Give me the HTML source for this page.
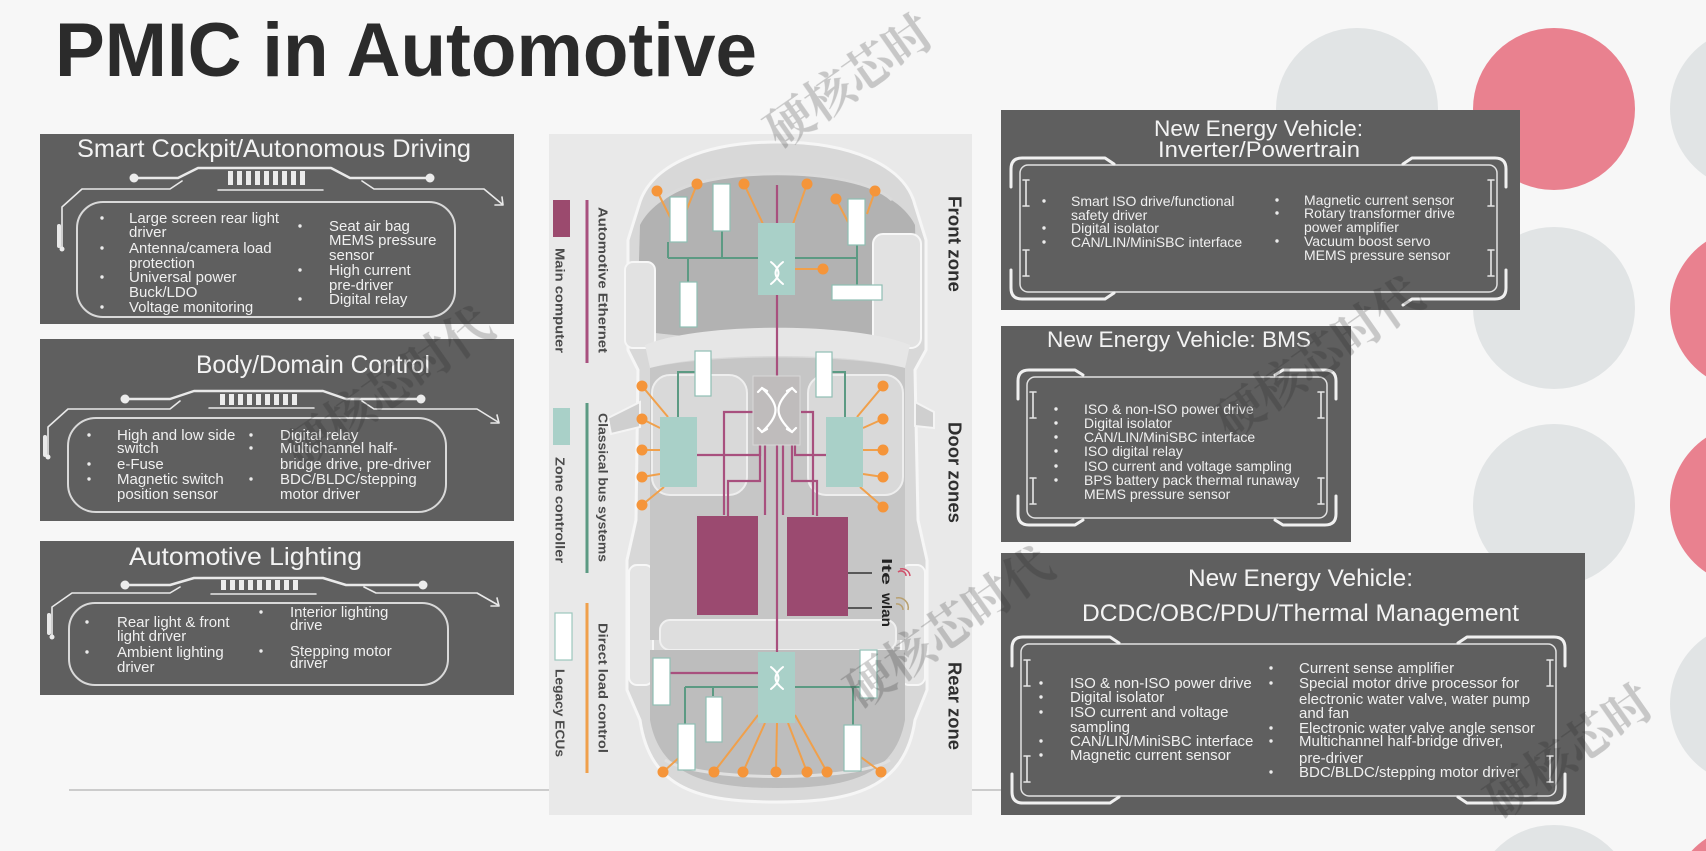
<!DOCTYPE html>
<html><head><meta charset="utf-8"><style>
html,body{margin:0;padding:0;background:#f7f7f7;width:1706px;height:851px;overflow:hidden;}
svg{display:block;overflow:hidden;}
</style></head><body>
<svg xmlns="http://www.w3.org/2000/svg" width="1706" height="851" viewBox="0 0 1706 851">
<rect width="1706" height="851" fill="#f7f7f7"/>

<!-- background circles (clipped to frame) -->
<g>
<circle cx="1357" cy="109" r="81" fill="#e1e4e5"/>
<circle cx="1554" cy="109" r="81" fill="#e9818f"/>
<path d="M1706,41.65 A81,81 0 0 0 1706,176.35 Z" fill="#e1e4e5"/>
<circle cx="1554" cy="308" r="81" fill="#e1e4e5"/>
<path d="M1706,241.65 A81,81 0 0 0 1706,376.35 Z" fill="#e9818f"/>
<circle cx="1554" cy="505" r="81" fill="#e1e4e5"/>
<path d="M1706,437.65 A81,81 0 0 0 1706,572.35 Z" fill="#e9818f"/>
<path d="M1706,636.65 A81,81 0 0 0 1706,771.35 Z" fill="#e1e4e5"/>
<path d="M1494.5,851 A81,81 0 0 1 1613.5,851 Z" fill="#e1e4e5"/>
<path d="M1691.5,851 A81,81 0 0 1 1706,838.65 L1706,851 Z" fill="#e9818f"/>
</g>

<!-- title -->
<text x="55" y="76" font-family="Liberation Sans, Arial, sans-serif" font-weight="bold" font-size="76" fill="#2b2b2b" textLength="702" lengthAdjust="spacingAndGlyphs">PMIC in Automotive</text>

<!-- divider lines -->
<line x1="69" y1="790" x2="549" y2="790" stroke="#bdbdbd" stroke-width="1.5"/>
<line x1="972" y1="790" x2="1002" y2="790" stroke="#bdbdbd" stroke-width="1.5"/>

<!-- ============ LEFT BOXES ============ -->
<g font-family="Liberation Sans, Arial, sans-serif">
<!-- L1 -->
<rect x="40" y="134" width="474" height="190" fill="#5f5f5f"/>
<text x="77" y="157" font-size="25" fill="#f3f3f3" textLength="394" lengthAdjust="spacingAndGlyphs">Smart Cockpit/Autonomous Driving</text>
<g stroke="#e9e9e9" fill="none" stroke-linecap="round" stroke-linejoin="round">
  <polyline points="134,178 178,178 198,168 331,168 350,178 430,178" stroke-width="2.5"/>
  <polyline points="62,248 62,207 82,189 170,189 182,181" stroke-width="1.6"/>
  <polyline points="362,181 374,189 484,189 502,204" stroke-width="1.6"/>
  <polyline points="495,205 503,205 502,197" stroke-width="1.6"/>
  <line x1="218" y1="190" x2="323" y2="190" stroke-width="1.5"/>
  <line x1="59" y1="226" x2="59" y2="246" stroke-width="4"/>
  <rect x="77" y="202" width="378" height="115" rx="26" stroke="#d9d9d9" stroke-width="2"/>
</g>
<g fill="#ececec">
  <circle cx="134" cy="178" r="4.5"/><circle cx="430" cy="178" r="4.5"/><circle cx="62" cy="249" r="2.5"/>
  <rect x="228" y="171" width="5" height="14"/><rect x="237" y="171" width="5" height="14"/><rect x="246" y="171" width="5" height="14"/><rect x="255" y="171" width="5" height="14"/><rect x="264" y="171" width="5" height="14"/><rect x="273" y="171" width="5" height="14"/><rect x="282" y="171" width="5" height="14"/><rect x="291" y="171" width="5" height="14"/><rect x="300" y="171" width="5" height="14"/>
</g>
<g font-size="15" fill="#f0f0f0">
  <text x="129" y="223">Large screen rear light</text>
  <text x="129" y="237">driver</text>
  <text x="129" y="253">Antenna/camera load</text>
  <text x="129" y="268">protection</text>
  <text x="129" y="282">Universal power</text>
  <text x="129" y="297">Buck/LDO</text>
  <text x="129" y="312">Voltage monitoring</text>
  <text x="329" y="231">Seat air bag</text>
  <text x="329" y="245">MEMS pressure</text>
  <text x="329" y="260">sensor</text>
  <text x="329" y="275">High current</text>
  <text x="329" y="290">pre-driver</text>
  <text x="329" y="304">Digital relay</text>
</g>
<g fill="#ececec">
  <circle cx="102" cy="218" r="1.7"/><circle cx="102" cy="248" r="1.7"/><circle cx="102" cy="277" r="1.7"/><circle cx="102" cy="307" r="1.7"/>
  <circle cx="300" cy="226" r="1.7"/><circle cx="300" cy="270" r="1.7"/><circle cx="300" cy="299" r="1.7"/>
</g>

<!-- L2 -->
<rect x="40" y="339" width="474" height="182" fill="#5f5f5f"/>
<text x="196" y="373" font-size="25" fill="#f3f3f3" textLength="234" lengthAdjust="spacingAndGlyphs">Body/Domain Control</text>
<g stroke="#e9e9e9" fill="none" stroke-linecap="round" stroke-linejoin="round">
  <polyline points="125,399 170,399 194,391 323,391 346,399 421,399" stroke-width="2.5"/>
  <polyline points="48,457 48,427 68,409 170,409 180,401" stroke-width="1.6"/>
  <polyline points="362,401 374,409 477,409 498,422" stroke-width="1.6"/>
  <polyline points="491,423 499,423 497,415" stroke-width="1.6"/>
  <line x1="209" y1="408" x2="314" y2="408" stroke-width="1.5"/>
  <line x1="45" y1="437" x2="45" y2="455" stroke-width="4"/>
  <rect x="68" y="418" width="378" height="94" rx="28" stroke="#d9d9d9" stroke-width="2"/>
</g>
<g fill="#ececec">
  <circle cx="125" cy="399" r="4.5"/><circle cx="421" cy="399" r="4.5"/><circle cx="48" cy="457" r="2.5"/>
  <rect x="220" y="394" width="5" height="11"/><rect x="229" y="394" width="5" height="11"/><rect x="238" y="394" width="5" height="11"/><rect x="247" y="394" width="5" height="11"/><rect x="256" y="394" width="5" height="11"/><rect x="265" y="394" width="5" height="11"/><rect x="274" y="394" width="5" height="11"/><rect x="283" y="394" width="5" height="11"/><rect x="292" y="394" width="5" height="11"/>
</g>
<g font-size="15" fill="#f0f0f0">
  <text x="117" y="440">High and low side</text>
  <text x="117" y="453">switch</text>
  <text x="117" y="469">e-Fuse</text>
  <text x="117" y="484">Magnetic switch</text>
  <text x="117" y="499">position sensor</text>
  <text x="280" y="440">Digital relay</text>
  <text x="280" y="453">Multichannel half-</text>
  <text x="280" y="469">bridge drive, pre-driver</text>
  <text x="280" y="484">BDC/BLDC/stepping</text>
  <text x="280" y="499">motor driver</text>
</g>
<g fill="#ececec">
  <circle cx="89" cy="435" r="1.7"/><circle cx="89" cy="464" r="1.7"/><circle cx="89" cy="479" r="1.7"/>
  <circle cx="251" cy="435" r="1.7"/><circle cx="251" cy="448" r="1.7"/><circle cx="251" cy="479" r="1.7"/>
</g>

<!-- L3 -->
<rect x="40" y="541" width="474" height="154" fill="#5f5f5f"/>
<text x="129" y="565" font-size="25" fill="#f3f3f3" textLength="233" lengthAdjust="spacingAndGlyphs">Automotive Lighting</text>
<g stroke="#e9e9e9" fill="none" stroke-linecap="round" stroke-linejoin="round">
  <polyline points="125,585 170,585 194,578 323,578 346,585 423,585" stroke-width="2.5"/>
  <polyline points="52,637 52,607 72,593 170,593 180,587" stroke-width="1.6"/>
  <polyline points="364,587 376,593 477,593 498,605" stroke-width="1.6"/>
  <polyline points="491,606 499,606 497,598" stroke-width="1.6"/>
  <line x1="211" y1="594" x2="316" y2="594" stroke-width="1.5"/>
  <line x1="49" y1="615" x2="49" y2="633" stroke-width="4"/>
  <rect x="69" y="603" width="379" height="82" rx="26" stroke="#d9d9d9" stroke-width="2"/>
</g>
<g fill="#ececec">
  <circle cx="125" cy="585" r="4.5"/><circle cx="423" cy="585" r="4.5"/><circle cx="52" cy="637" r="2.5"/>
  <rect x="221" y="580" width="5" height="10"/><rect x="230" y="580" width="5" height="10"/><rect x="239" y="580" width="5" height="10"/><rect x="248" y="580" width="5" height="10"/><rect x="257" y="580" width="5" height="10"/><rect x="266" y="580" width="5" height="10"/><rect x="275" y="580" width="5" height="10"/><rect x="284" y="580" width="5" height="10"/><rect x="293" y="580" width="5" height="10"/>
</g>
<g font-size="15" fill="#f0f0f0">
  <text x="117" y="627">Rear light &amp; front</text>
  <text x="117" y="641">light driver</text>
  <text x="117" y="657">Ambient lighting</text>
  <text x="117" y="672">driver</text>
  <text x="290" y="617">Interior lighting</text>
  <text x="290" y="630">drive</text>
  <text x="290" y="656">Stepping motor</text>
  <text x="290" y="668">driver</text>
</g>
<g fill="#ececec">
  <circle cx="87" cy="622" r="1.7"/><circle cx="87" cy="652" r="1.7"/>
  <circle cx="261" cy="612" r="1.7"/><circle cx="261" cy="651" r="1.7"/>
</g>
</g>

<!-- ============ RIGHT BOXES ============ -->
<g font-family="Liberation Sans, Arial, sans-serif">
<!-- R1 -->
<rect x="1001" y="110" width="519" height="200" fill="#5f5f5f"/>
<text x="1154" y="136" font-size="22.5" fill="#f3f3f3" textLength="209" lengthAdjust="spacingAndGlyphs">New Energy Vehicle:</text>
<text x="1158" y="157" font-size="22.5" fill="#f3f3f3" textLength="202" lengthAdjust="spacingAndGlyphs">Inverter/Powertrain</text>
<g fill="none" stroke-linecap="round" stroke-linejoin="round">
  <rect x="1020" y="165" width="477" height="127" rx="8" stroke="#e2e2e2" stroke-width="1.5"/>
  <g stroke="#f0f0f0" stroke-width="3">
    <path d="M1011,187 V169 Q1011,158 1022,158 H1105 l9,6"/>
    <path d="M1506,187 V169 Q1506,158 1495,158 H1412 l-9,6"/>
    <path d="M1011,270 V288 Q1011,299 1022,299 H1105 l9,-6"/>
    <path d="M1506,270 V288 Q1506,299 1495,299 H1412 l-9,6"/>
  </g>
  <g stroke="#e6e6e6" stroke-width="1.6">
    <path d="M1026,180 V206 M1023,180 h6 M1023,206 h6"/>
    <path d="M1026,250 V276 M1023,250 h6 M1023,276 h6"/>
    <path d="M1491,180 V206 M1488,180 h6 M1488,206 h6"/>
    <path d="M1491,250 V276 M1488,250 h6 M1488,276 h6"/>
  </g>
</g>
<g font-size="14" fill="#f0f0f0">
  <text x="1071" y="206">Smart ISO drive/functional</text>
  <text x="1071" y="220">safety driver</text>
  <text x="1071" y="233">Digital isolator</text>
  <text x="1071" y="247">CAN/LIN/MiniSBC interface</text>
  <text x="1304" y="205">Magnetic current sensor</text>
  <text x="1304" y="218">Rotary transformer drive</text>
  <text x="1304" y="232">power amplifier</text>
  <text x="1304" y="246">Vacuum boost servo</text>
  <text x="1304" y="260">MEMS pressure sensor</text>
</g>
<g fill="#ececec">
  <circle cx="1044" cy="201" r="1.7"/><circle cx="1044" cy="228" r="1.7"/><circle cx="1044" cy="242" r="1.7"/>
  <circle cx="1277" cy="200" r="1.7"/><circle cx="1277" cy="213" r="1.7"/><circle cx="1277" cy="241" r="1.7"/>
</g>

<!-- R2 -->
<rect x="1001" y="326" width="350" height="216" fill="#5f5f5f"/>
<text x="1047" y="347" font-size="22.5" fill="#f3f3f3" textLength="264" lengthAdjust="spacingAndGlyphs">New Energy Vehicle: BMS</text>
<g fill="none" stroke-linecap="round" stroke-linejoin="round">
  <rect x="1027" y="377" width="300" height="141" rx="8" stroke="#e2e2e2" stroke-width="1.5"/>
  <g stroke="#f0f0f0" stroke-width="3">
    <path d="M1018,399 V381 Q1018,370 1029,370 H1075 l8,5"/>
    <path d="M1336,399 V381 Q1336,370 1325,370 H1283 l-8,5"/>
    <path d="M1018,496 V514 Q1018,525 1029,525 H1075 l8,-5"/>
    <path d="M1336,496 V514 Q1336,525 1325,525 H1283 l-8,-5"/>
  </g>
  <g stroke="#e6e6e6" stroke-width="1.6">
    <path d="M1033,392 V418 M1030,392 h6 M1030,418 h6"/>
    <path d="M1033,478 V504 M1030,478 h6 M1030,504 h6"/>
    <path d="M1321,392 V418 M1318,392 h6 M1318,418 h6"/>
    <path d="M1321,478 V504 M1318,478 h6 M1318,504 h6"/>
  </g>
</g>
<g font-size="14" fill="#f0f0f0">
  <text x="1084" y="414">ISO &amp; non-ISO power drive</text>
  <text x="1084" y="428">Digital isolator</text>
  <text x="1084" y="442">CAN/LIN/MiniSBC interface</text>
  <text x="1084" y="456">ISO digital relay</text>
  <text x="1084" y="471">ISO current and voltage sampling</text>
  <text x="1084" y="485">BPS battery pack thermal runaway</text>
  <text x="1084" y="499">MEMS pressure sensor</text>
</g>
<g fill="#ececec">
  <circle cx="1056" cy="409" r="1.7"/><circle cx="1056" cy="423" r="1.7"/><circle cx="1056" cy="437" r="1.7"/><circle cx="1056" cy="451" r="1.7"/><circle cx="1056" cy="466" r="1.7"/><circle cx="1056" cy="480" r="1.7"/>
</g>

<!-- R3 -->
<rect x="1001" y="553" width="584" height="262" fill="#5f5f5f"/>
<text x="1188" y="586" font-size="24.5" fill="#f3f3f3" textLength="225" lengthAdjust="spacingAndGlyphs">New Energy Vehicle:</text>
<text x="1082" y="621" font-size="24.5" fill="#f3f3f3" textLength="437" lengthAdjust="spacingAndGlyphs">DCDC/OBC/PDU/Thermal Management</text>
<g fill="none" stroke-linecap="round" stroke-linejoin="round">
  <rect x="1021" y="644" width="535" height="152" rx="8" stroke="#e2e2e2" stroke-width="1.5"/>
  <g stroke="#f0f0f0" stroke-width="3">
    <path d="M1012,666 V648 Q1012,637 1023,637 H1110 l9,6"/>
    <path d="M1565,666 V648 Q1565,637 1554,637 H1467 l-9,6"/>
    <path d="M1012,774 V792 Q1012,803 1023,803 H1110 l9,-6"/>
    <path d="M1565,774 V792 Q1565,803 1554,803 H1467 l-9,-6"/>
  </g>
  <g stroke="#e6e6e6" stroke-width="1.6">
    <path d="M1027,660 V686 M1024,660 h6 M1024,686 h6"/>
    <path d="M1027,756 V782 M1024,756 h6 M1024,782 h6"/>
    <path d="M1550,660 V686 M1547,660 h6 M1547,686 h6"/>
    <path d="M1550,756 V782 M1547,756 h6 M1547,782 h6"/>
  </g>
</g>
<g font-size="15" fill="#f0f0f0">
  <text x="1070" y="688">ISO &amp; non-ISO power drive</text>
  <text x="1070" y="702">Digital isolator</text>
  <text x="1070" y="717">ISO current and voltage</text>
  <text x="1070" y="732">sampling</text>
  <text x="1070" y="746">CAN/LIN/MiniSBC interface</text>
  <text x="1070" y="760">Magnetic current sensor</text>
  <text x="1299" y="673">Current sense amplifier</text>
  <text x="1299" y="688">Special motor drive processor for</text>
  <text x="1299" y="704">electronic water valve, water pump</text>
  <text x="1299" y="718">and fan</text>
  <text x="1299" y="733">Electronic water valve angle sensor</text>
  <text x="1299" y="746">Multichannel half-bridge driver,</text>
  <text x="1299" y="763">pre-driver</text>
  <text x="1299" y="777">BDC/BLDC/stepping motor driver</text>
</g>
<g fill="#ececec">
  <circle cx="1041" cy="683" r="1.7"/><circle cx="1041" cy="697" r="1.7"/><circle cx="1041" cy="712" r="1.7"/><circle cx="1041" cy="741" r="1.7"/><circle cx="1041" cy="755" r="1.7"/>
  <circle cx="1271" cy="668" r="1.7"/><circle cx="1271" cy="683" r="1.7"/><circle cx="1271" cy="728" r="1.7"/><circle cx="1271" cy="741" r="1.7"/><circle cx="1271" cy="772" r="1.7"/>
</g>
</g>

<!-- ============ CENTER CAR DIAGRAM ============ -->
<rect x="549" y="134" width="423" height="681" fill="#e9e9e9"/>
<!-- car body -->
<path d="M777,142 C850,142 905,165 915,205 L926,240 L926,350 L915,370 L918,520 L927,560 L927,690 L915,720 C905,790 850,802 777,802 C700,802 650,790 640,720 L627,690 L627,560 L636,520 L638,370 L628,350 L628,240 L639,205 C650,165 705,142 777,142 Z" fill="#d8d8d8" stroke="#f6f6f6" stroke-width="3"/>
<path d="M640,402 L608,418 L611,434 L640,427 Z" fill="#cfcfcf" stroke="#f4f4f4" stroke-width="2"/>
<path d="M915,402 L934,412 L934,428 L915,426 Z" fill="#cfcfcf" stroke="#f4f4f4" stroke-width="2"/>
<!-- hood -->
<path d="M640,225 C675,155 880,155 915,225 L918,330 C860,342 695,342 637,330 Z" fill="#b2b2b2"/>
<path d="M662,200 C700,165 855,165 892,200" fill="none" stroke="#dadada" stroke-width="3"/>
<!-- wheels -->
<rect x="625" y="262" width="30" height="86" rx="8" fill="#e2e2e2" stroke="#f7f7f7" stroke-width="2"/>
<rect x="873" y="234" width="48" height="114" rx="10" fill="#e2e2e2" stroke="#f7f7f7" stroke-width="2"/>
<rect x="629" y="565" width="24" height="120" rx="8" fill="#e4e4e4" stroke="#f7f7f7" stroke-width="2"/>
<rect x="901" y="565" width="24" height="120" rx="8" fill="#e4e4e4" stroke="#f7f7f7" stroke-width="2"/>
<!-- windshield -->
<path d="M645,345 C700,322 855,322 910,345 L905,368 C850,352 705,352 650,368 Z" fill="#e6e6e6"/>
<!-- cabin floor -->
<path d="M650,368 C705,354 850,354 905,368 L905,640 L650,640 Z" fill="#c6c6c6"/>
<rect x="652" y="375" width="95" height="120" rx="18" fill="#d9d9d9" stroke="#eeeeee" stroke-width="2"/>
<rect x="808" y="375" width="95" height="120" rx="18" fill="#d9d9d9" stroke="#eeeeee" stroke-width="2"/>
<rect x="660" y="620" width="236" height="30" rx="10" fill="#dedede" stroke="#f0f0f0" stroke-width="2"/>
<!-- rear -->
<path d="M650,650 L905,650 L905,720 C895,775 850,788 777,788 C705,788 660,775 650,720 Z" fill="#bdbdbd"/>
<path d="M665,760 C700,782 855,782 890,760" fill="none" stroke="#e0e0e0" stroke-width="3"/>

<!-- legend -->
<rect x="553" y="200" width="17" height="37" fill="#9b4a6e"/>
<rect x="553" y="408" width="17" height="37" fill="#a9d0c8"/>
<rect x="555" y="613" width="17" height="47" fill="#ffffff" stroke="#9cc7bd" stroke-width="1.2"/>
<line x1="587" y1="200" x2="587" y2="363" stroke="#a8507e" stroke-width="3"/>
<line x1="587" y1="403" x2="587" y2="573" stroke="#5c9a83" stroke-width="3"/>
<line x1="587" y1="603" x2="587" y2="773" stroke="#f0a04b" stroke-width="3"/>
<g font-family="Liberation Sans, Arial, sans-serif" font-size="13" font-weight="bold" fill="#4a4a4a">
  <text transform="translate(555.5,248) rotate(90)" textLength="105" lengthAdjust="spacingAndGlyphs">Main computer</text>
  <text transform="translate(598.5,207) rotate(90)" textLength="146" lengthAdjust="spacingAndGlyphs">Automotive Ethernet</text>
  <text transform="translate(555.5,457) rotate(90)" textLength="106" lengthAdjust="spacingAndGlyphs">Zone controller</text>
  <text transform="translate(598.5,413) rotate(90)" textLength="149" lengthAdjust="spacingAndGlyphs">Classical bus systems</text>
  <text transform="translate(555.5,669) rotate(90)" textLength="88" lengthAdjust="spacingAndGlyphs">Legacy ECUs</text>
  <text transform="translate(598.5,623) rotate(90)" textLength="130" lengthAdjust="spacingAndGlyphs">Direct load control</text>
</g>
<g font-family="Liberation Sans, Arial, sans-serif" font-size="18" font-weight="bold" fill="#2f2f2f">
  <text transform="translate(948.5,196) rotate(90)" textLength="96" lengthAdjust="spacingAndGlyphs">Front zone</text>
  <text transform="translate(948.5,422) rotate(90)" textLength="101" lengthAdjust="spacingAndGlyphs">Door zones</text>
  <text transform="translate(948.5,662) rotate(90)" textLength="88" lengthAdjust="spacingAndGlyphs">Rear zone</text>
</g>

<!-- magenta ethernet -->
<g stroke="#a8507e" stroke-width="2.2" fill="none">
  <line x1="777" y1="185" x2="777" y2="653"/>
  <polyline points="753,412 724,412 724,515"/>
  <polyline points="801,412 813,412 813,515"/>
  <polyline points="697,455 760,455 760,445"/>
  <polyline points="826,455 795,455 795,445"/>
  <polyline points="728,516 728,481 760,481 760,445"/>
  <polyline points="817,516 817,481 792,481 792,445"/>
  <line x1="765" y1="445" x2="765" y2="515"/>
  <line x1="783" y1="445" x2="783" y2="515"/>
  <line x1="670" y1="673" x2="758" y2="673"/>
</g>
<!-- green bus -->
<g stroke="#5c9a83" stroke-width="2" fill="none">
  <line x1="668" y1="258" x2="758" y2="258"/>
  <line x1="668" y1="242" x2="668" y2="258"/>
  <line x1="688" y1="258" x2="688" y2="283"/>
  <line x1="722" y1="231" x2="722" y2="258"/>
  <line x1="795" y1="258" x2="857" y2="258"/>
  <line x1="857" y1="245" x2="857" y2="286"/>
  <polyline points="695,372 678,372 678,417"/>
  <polyline points="832,372 845,372 845,417"/>
  <line x1="685" y1="687" x2="758" y2="687"/>
  <line x1="685" y1="687" x2="685" y2="724"/>
  <line x1="713" y1="687" x2="713" y2="696"/>
  <line x1="795" y1="687" x2="869" y2="687"/>
  <line x1="869" y1="687" x2="869" y2="698"/>
  <line x1="853" y1="687" x2="853" y2="725"/>
</g>
<!-- orange direct load -->
<g stroke="#f0a04b" stroke-width="2" fill="none">
  <line x1="744" y1="184" x2="763" y2="224"/>
  <line x1="807" y1="184" x2="793" y2="224"/>
  <line x1="823" y1="269" x2="795" y2="269"/>
  <line x1="657" y1="191" x2="677" y2="231"/>
  <line x1="697" y1="184" x2="685" y2="214"/>
  <line x1="836" y1="199" x2="848" y2="222"/>
  <line x1="875" y1="191" x2="867" y2="214"/>
  <line x1="642" y1="386" x2="668" y2="417"/>
  <line x1="642" y1="419" x2="660" y2="428"/>
  <line x1="642" y1="450" x2="660" y2="450"/>
  <line x1="642" y1="477" x2="660" y2="474"/>
  <line x1="642" y1="505" x2="664" y2="487"/>
  <line x1="883" y1="386" x2="857" y2="417"/>
  <line x1="883" y1="419" x2="863" y2="428"/>
  <line x1="883" y1="450" x2="863" y2="450"/>
  <line x1="883" y1="477" x2="863" y2="474"/>
  <line x1="883" y1="507" x2="860" y2="487"/>
  <line x1="758" y1="715" x2="714" y2="772"/>
  <line x1="765" y1="723" x2="743" y2="772"/>
  <line x1="777" y1="723" x2="776" y2="772"/>
  <line x1="788" y1="723" x2="807" y2="772"/>
  <line x1="795" y1="715" x2="827" y2="772"/>
  <line x1="663" y1="772" x2="682" y2="755"/>
  <line x1="881" y1="772" x2="858" y2="755"/>
</g>
<g fill="#f5953a">
  <circle cx="657" cy="191" r="5.5"/><circle cx="697" cy="184" r="5.5"/><circle cx="744" cy="184" r="5.5"/><circle cx="807" cy="184" r="5.5"/><circle cx="836" cy="199" r="5.5"/><circle cx="875" cy="191" r="5.5"/><circle cx="823" cy="269" r="5.5"/>
  <circle cx="642" cy="386" r="5.5"/><circle cx="642" cy="419" r="5.5"/><circle cx="642" cy="450" r="5.5"/><circle cx="642" cy="477" r="5.5"/><circle cx="642" cy="505" r="5.5"/>
  <circle cx="883" cy="386" r="5.5"/><circle cx="883" cy="419" r="5.5"/><circle cx="883" cy="450" r="5.5"/><circle cx="883" cy="477" r="5.5"/><circle cx="883" cy="507" r="5.5"/>
  <circle cx="663" cy="772" r="5.5"/><circle cx="714" cy="772" r="5.5"/><circle cx="743" cy="772" r="5.5"/><circle cx="776" cy="772" r="5.5"/><circle cx="807" cy="772" r="5.5"/><circle cx="827" cy="772" r="5.5"/><circle cx="881" cy="772" r="5.5"/>
</g>

<!-- legacy ECUs -->
<g fill="#ffffff" stroke="#8fbfb3" stroke-width="1.2">
  <rect x="713" y="184" width="17" height="47"/>
  <rect x="670" y="197" width="17" height="45"/>
  <rect x="848" y="199" width="17" height="46"/>
  <rect x="680" y="282" width="17" height="45"/>
  <rect x="832" y="285" width="50" height="15"/>
  <rect x="695" y="351" width="16" height="45"/>
  <rect x="816" y="352" width="16" height="45"/>
  <rect x="653" y="658" width="17" height="47"/>
  <rect x="706" y="697" width="16" height="45"/>
  <rect x="678" y="724" width="17" height="46"/>
  <rect x="860" y="650" width="17" height="48"/>
  <rect x="844" y="725" width="17" height="46"/>
</g>

<!-- zone controllers -->
<g fill="#a9d0c8">
  <rect x="758" y="223" width="37" height="72"/>
  <rect x="660" y="417" width="37" height="70"/>
  <rect x="826" y="417" width="37" height="70"/>
  <rect x="758" y="652" width="37" height="71"/>
</g>
<g stroke="#ffffff" stroke-width="2" fill="none" stroke-linecap="round">
  <path d="M771,262 C781,270 781,276 771,284 M783,262 C773,270 773,276 783,284"/>
  <path d="M771,667 C781,675 781,681 771,689 M783,667 C773,675 773,681 783,689"/>
</g>
<!-- central switch -->
<rect x="753" y="376" width="47" height="69" fill="#bfbcbc" stroke="#d8d8d8" stroke-width="1"/>
<g stroke="#ffffff" stroke-width="2.2" fill="none" stroke-linecap="round">
  <path d="M762,388 C780,405 780,415 762,432 M792,388 C774,405 774,415 792,432"/>
  <path d="M758,392 L762,388 L767,391 M787,391 L792,388 L796,392 M758,428 L762,432 L767,429 M787,429 L792,432 L796,428"/>
</g>
<!-- main computers -->
<rect x="697" y="516" width="61" height="99" fill="#9b4a70"/>
<rect x="787" y="517" width="61" height="99" fill="#9b4a70"/>
<!-- lte / wlan -->
<g stroke="#333" stroke-width="1.5">
  <line x1="848" y1="573" x2="872" y2="573"/>
  <line x1="848" y1="608" x2="872" y2="608"/>
</g>
<g font-family="Liberation Sans, Arial, sans-serif" font-size="14" font-weight="bold" fill="#222">
  <text transform="translate(882,558) rotate(90)" textLength="27" lengthAdjust="spacingAndGlyphs">lte</text>
  <text transform="translate(882,593) rotate(90)" textLength="34" lengthAdjust="spacingAndGlyphs">wlan</text>
</g>
<path d="M898,572 a5,5 0 0 1 8,4 M900,569 a8,8 0 0 1 10,7" stroke="#d0506a" stroke-width="1.5" fill="none"/>
<path d="M896,598 a10,10 0 0 1 12,12 M896,604 a6,6 0 0 1 7,6" stroke="#b8a070" stroke-width="1.5" fill="none"/>

<!-- watermarks (kept within frame) -->
<g font-family="Liberation Serif, 'Noto Serif CJK SC', serif" font-weight="bold" font-size="48" fill="#222" opacity="0.22">
  <text transform="translate(780,150) rotate(-35)">硬核芯时</text>
  <text transform="translate(300,470) rotate(-35)">硬核芯时代</text>
  <text transform="translate(1230,440) rotate(-35)">硬核芯时代</text>
  <text transform="translate(860,710) rotate(-35)">硬核芯时代</text>
  <text transform="translate(1500,820) rotate(-35)">硬核芯时</text>
</g>
</svg>
</body></html>
